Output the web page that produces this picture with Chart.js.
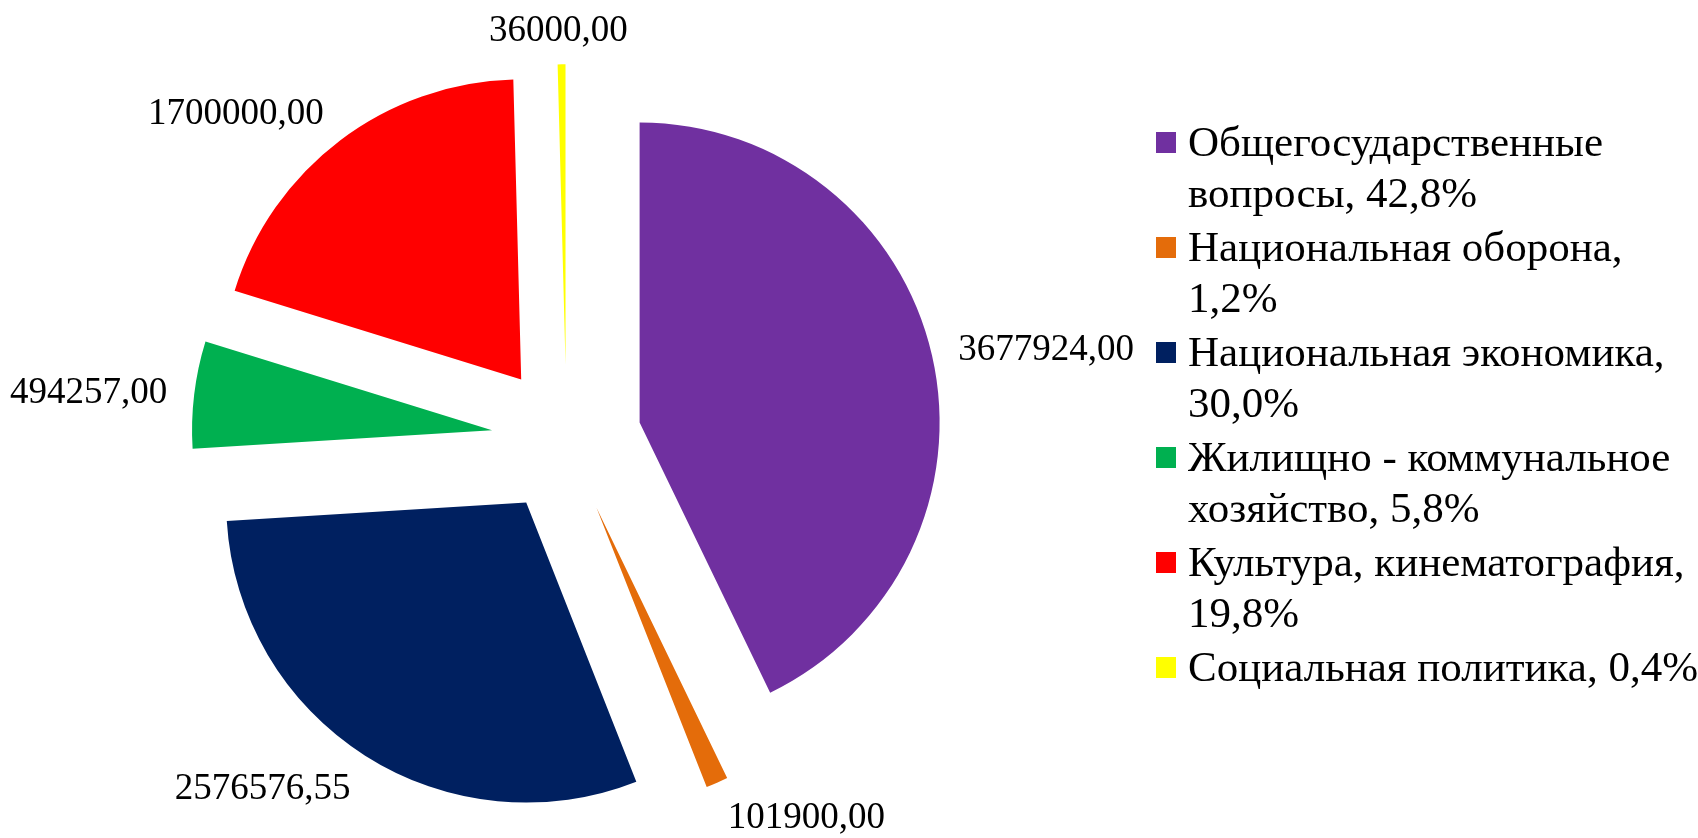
<!DOCTYPE html>
<html lang="ru">
<head>
<meta charset="utf-8">
<title>Расходы бюджета</title>
<script src="https://cdn.jsdelivr.net/npm/chart.js@4.4.0/dist/chart.umd.min.js"></script>
<style>
	body { margin: 0; background: #fff; }
	#wrap { position: relative; width: 1698px; height: 838px; overflow: hidden; }
	#legend {
		position: absolute; left: 1156px; top: 116px; width: 560px;
		font-family: "Liberation Serif", "Times New Roman", serif; font-size: 43px; color: #000;
	}
	.item { position: relative; padding-left: 32px; line-height: 51px; margin-bottom: 3px; width: 514px; }
	.box { position: absolute; left: 0; top: 16px; width: 20px; height: 21px; }
</style>
</head>
<body>
<div id="wrap">
	<canvas id="myChart" width="1698" height="838"></canvas>
	<div id="legend"></div>
</div>
<script>
// Данные диаграммы
const categories = [
	'Общегосударственные вопросы',
	'Национальная оборона',
	'Национальная экономика',
	'Жилищно - коммунальное хозяйство',
	'Культура, кинематография',
	'Социальная политика'
];
const values = [3677924.00, 101900.00, 2576576.55, 494257.00, 1700000.00, 36000.00];
const colors = ['#7030A0', '#E46C0A', '#002060', '#00B050', '#FF0000', '#FFFF00'];

const EXPLODE = 75; // вынос секторов от центра, px
const LABEL_FONT_SIZE = 37;

function fmt(v) {
	return v.toFixed(2).replace('.', ',');
}

// Легенда справа (как в Excel)
const total = values.reduce((a, b) => a + b, 0);
const legend = document.getElementById('legend');
categories.forEach((name, i) => {
	const pct = (values[i] / total * 100).toFixed(1).replace('.', ',');
	const div = document.createElement('div');
	div.className = 'item';
	div.innerHTML = '<span class="box" style="background:' + colors[i] + '"></span>' + name + ', ' + pct + '%';
	legend.appendChild(div);
});

// Сдвигаем каждый сектор наружу по средней линии
const explodePlugin = {
	id: 'explode',
	afterDatasetUpdate(chart, args) {
		args.meta.data.forEach(arc => {
			const mid = (arc.startAngle + arc.endAngle) / 2;
			arc.x += Math.cos(mid) * EXPLODE;
			arc.y += Math.sin(mid) * EXPLODE;
		});
	}
};

// Подписи значений снаружи секторов
const valueLabels = {
	id: 'valueLabels',
	afterDatasetsDraw(chart) {
		const ctx = chart.ctx;
		const meta = chart.getDatasetMeta(0);
		ctx.save();
		ctx.font = LABEL_FONT_SIZE + 'px "Liberation Serif", "Times New Roman", serif';
		ctx.fillStyle = '#000';
		ctx.textAlign = 'center';
		ctx.textBaseline = 'alphabetic';
		meta.data.forEach((arc, i) => {
			const mid = (arc.startAngle + arc.endAngle) / 2;
			const dx = Math.cos(mid), dy = Math.sin(mid);
			const r = arc.outerRadius + 27;
			const ax = arc.x + dx * r;
			const ay = arc.y + dy * r;
			const text = fmt(values[i]);
			const w = ctx.measureText(text).width;
			const f = Math.max(-1, Math.min(1, dx * 3));
			const cx = ax + f * w / 2;
			const cy = ay + dy * 9;
			ctx.fillText(text, cx, cy + 0.338 * LABEL_FONT_SIZE);
		});
		ctx.restore();
	}
};

var ctx = document.getElementById('myChart').getContext('2d');
new Chart(ctx, {
	type: 'pie',
	data: {
		labels: categories,
		datasets: [{
			data: values,
			backgroundColor: colors,
			borderWidth: 0,
			clip: false
		}]
	},
	options: {
		responsive: false,
		animation: false,
		layout: {
			padding: { left: 266.5, right: 831.5, top: 139.3, bottom: 98.7 }
		},
		plugins: {
			legend: { display: false },
			tooltip: { enabled: false }
		}
	},
	plugins: [explodePlugin, valueLabels]
});
</script>
</body>
</html>
